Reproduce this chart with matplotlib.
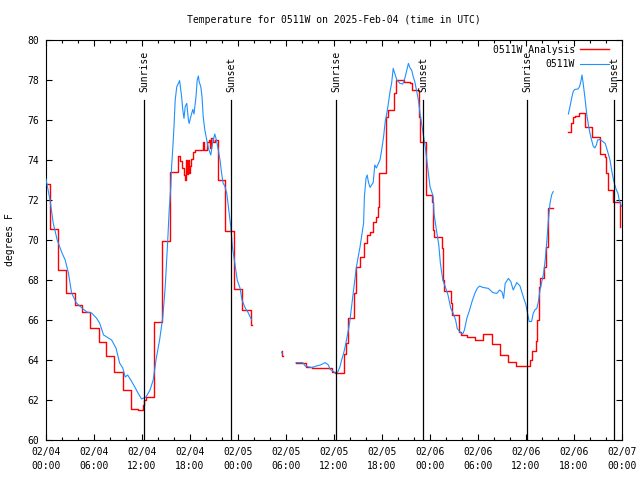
import numpy as np
import matplotlib
matplotlib.use("Agg")
import matplotlib.pyplot as plt

nan = np.nan

# hours since 02/04 00:00 UTC
obs_hours = [0.0, 0.5, 0.9, 1.4, 2.0, 2.4, 2.8, 3.2, 3.8, 4.5, 5.1, 5.7, 6.3, 6.7, 7.2, 7.6,
             8.2, 8.75, 9.2, 9.6, 9.9, 10.2, 10.6, 11.1, 11.5, 11.95, 12.5, 13.0, 13.4, 13.75,
             14.2, 14.6, 14.9, 15.2, 15.4, 15.6, 15.7, 15.85, 16.0, 16.15, 16.35, 16.55, 16.7,
             16.85, 16.95, 17.1, 17.25, 17.4, 17.6, 17.8, 17.9, 18.1, 18.35, 18.5, 18.75, 18.9,
             19.05, 19.15, 19.35, 19.5, 19.65, 19.85, 20.1, 20.3, 20.6, 20.85, 21.1, 21.3, 21.5,
             21.75, 21.95, 22.15, 22.35, 22.6, 22.8, 23.1, 23.3, 23.6, 23.9, 24.25, 24.5, 24.9,
             25.3, 25.7, 25.8,
             29.45, 29.55, 29.6,
             31.25, 32.1, 32.4, 33.2, 33.8, 34.3, 34.7, 34.9, 35.3, 35.5, 35.8, 36.1, 36.3, 36.5,
             36.75, 36.95, 37.2, 37.4, 37.6, 37.8, 38.0, 38.4, 38.8, 39.25, 39.7, 39.8, 40.0,
             40.15, 40.3, 40.5, 40.9, 41.1, 41.3, 41.55, 41.75, 41.96, 42.2, 42.4, 42.6, 42.8,
             43.0, 43.2, 43.4, 43.6, 43.85, 44.25, 44.6, 44.85, 45.1, 45.3, 45.5, 45.7, 45.9,
             46.1, 46.3, 46.55, 46.75, 46.95, 47.2, 47.4, 47.6, 47.8, 48.0, 48.4, 48.5, 48.8,
             49.1, 49.3, 49.6, 49.9, 50.25, 50.6, 50.9, 51.2, 51.4, 51.7, 52.1, 52.3, 52.6,
             52.95, 53.25, 53.6, 53.9, 54.2, 54.6, 55.3, 55.85, 56.35, 56.7, 57.0, 57.2, 57.4,
             57.8, 58.1, 58.4, 58.85, 59.25, 59.65, 60.0, 60.15, 60.4, 60.7, 60.9, 61.1, 61.35,
             61.55, 61.7, 61.75, 62.2, 62.4, 62.6, 62.8, 63.0, 63.2, 63.4, 63.5,
             65.3, 65.5, 65.7, 65.9, 66.1, 66.5, 66.7, 66.85, 67.0, 67.15, 67.4, 67.6, 67.8,
             68.0, 68.2, 68.4, 68.6, 68.8, 68.95, 69.25, 69.6, 69.9, 70.15, 70.5, 70.7, 70.9,
             71.1, 71.3, 71.5, 71.65, 71.95]
obs_temps = [73.05, 72.0, 70.85, 70.0, 69.35, 69.0, 68.35, 67.35, 66.85, 66.6, 66.4, 66.35, 66.1,
             65.85, 65.25, 65.15, 65.0, 64.6, 63.85, 63.6, 63.15, 63.25, 63.0, 62.65, 62.35, 62.05,
             62.15, 62.5, 63.0, 64.0, 65.0, 66.15, 67.65, 69.85, 71.5, 72.67, 73.67, 74.6, 75.67,
             77.0, 77.67, 77.83, 77.97, 77.5, 77.17, 76.5, 76.08, 76.67, 76.83, 76.0, 75.83, 76.17,
             76.53, 76.3, 77.17, 78.0, 78.2, 77.9, 77.67, 77.17, 76.17, 75.5, 75.0, 74.58, 74.25,
             74.92, 75.3, 75.0, 74.58, 74.0, 73.33, 72.83, 72.7, 72.33, 71.67, 70.65, 69.65, 68.85,
             68.0, 67.6, 67.0, 66.6, 66.35, 66.0, nan,
             64.4, 64.3, nan,
             63.87, 63.87, 63.7, 63.62, 63.7, 63.75, 63.83, 63.87, 63.75, 63.53, 63.47, 63.37,
             63.33, 63.42, 63.67, 64.0, 64.33, 64.67, 65.08, 65.5, 66.0, 67.35, 68.65, 69.65,
             70.85, 72.17, 73.08, 73.25, 72.9, 72.63, 72.87, 73.75, 73.6, 73.83, 74.0, 74.5,
             75.17, 75.92, 76.33, 76.83, 77.42, 77.83, 78.58, 78.33, 78.0, 77.83, 77.8, 78.08,
             78.5, 78.83, 78.6, 78.5, 78.17, 77.92, 77.5, 77.0, 76.33, 75.83, 75.17, 74.67, 74.0,
             73.33, 72.67, 72.17, 71.33, 70.5, 69.75, 68.83, 68.0, 67.67, 67.25, 66.58, 66.33,
             66.0, 65.58, 65.42, 65.3, 65.5, 66.08, 66.5, 66.92, 67.33, 67.58, 67.7, 67.63, 67.58,
             67.37, 67.33, 67.5, 67.4, 67.08, 67.83, 68.08, 67.92, 67.5, 67.87, 67.7, 67.17,
             66.75, 66.42, 65.92, 65.93, 66.33, 66.5, 66.58, 66.92, 67.33, 67.5, 68.33, 69.0,
             69.92, 71.0, 71.83, 72.25, 72.42, nan,
             76.3, 76.67, 77.08, 77.42, 77.53, 77.55, 77.67, 77.92, 78.25, 77.83, 77.0, 76.25,
             75.75, 75.33, 75.0, 74.7, 74.6, 74.75, 75.0, 75.03, 74.92, 74.83, 74.5, 74.0, 73.5,
             73.08, 72.75, 72.5, 72.33, 72.0, 71.67]

an_hours = [-0.5, 0.55, 1.55, 2.55, 3.6, 4.55, 5.55, 6.6, 7.55, 8.55, 9.6, 10.6, 11.5, 12.1,
            12.3, 12.45, 13.45, 14.55, 15.55, 16.5, 16.8, 17.0, 17.25, 17.4, 17.5, 17.6, 17.75,
            17.85, 18.0, 18.15, 18.4, 18.6, 19.6, 19.8, 20.1, 20.4, 20.5, 20.6, 20.9, 21.1, 21.5,
            22.4, 23.5, 24.5, 25.6, 25.8,
            29.45, 29.55, 29.62,
            31.25, 32.5, 33.2, 35.8, 36.1, 37.3, 37.5, 37.8, 38.5, 38.8, 39.25, 39.7, 40.1, 40.5,
            40.9, 41.25, 41.45, 41.65, 42.45, 42.55, 42.7, 43.5, 43.75, 44.8, 45.5, 45.7, 46.6,
            46.75, 47.45, 48.2, 48.4, 48.5, 49.45, 49.6, 49.7, 50.6, 50.7, 51.6, 51.85, 52.6,
            53.6, 54.65, 55.7, 56.75, 57.8, 58.8, 60.5, 60.7, 61.3, 61.4, 61.6, 61.75, 62.25,
            62.45, 62.7, 63.4,
            65.3, 65.6, 65.9, 66.1, 66.65, 67.4, 68.2, 69.25, 69.9, 70.0, 70.2, 70.9, 71.75, 71.8]
an_temps = [72.8, 70.55, 68.5, 67.35, 66.75, 66.4, 65.6, 64.9, 64.2, 63.4, 62.5, 61.55, 61.5,
            61.75, 62.0, 62.15, 65.9, 69.95, 73.4, 74.2, 73.95, 73.6, 73.25, 73.0, 74.0, 73.3,
            74.0, 73.35, 73.7, 74.05, 74.4, 74.5, 74.9, 74.5, 74.9, 75.0, 74.6, 75.1, 74.9, 75.0,
            73.0, 70.45, 67.55, 66.5, 65.75, nan,
            64.45, 64.2, nan,
            63.87, 63.67, 63.58, 63.42, 63.37, 64.3, 64.85, 66.1, 67.35, 68.65, 69.17, 69.85,
            70.25, 70.4, 70.9, 71.15, 71.65, 73.33, 74.08, 76.17, 76.5, 77.33, 78.0, 77.92, 77.83,
            77.5, 76.17, 74.92, 72.25, 71.92, 70.5, 70.13, 69.58, 68.0, 67.45, 66.83, 66.25,
            65.42, 65.25, 65.13, 65.0, 65.3, 64.8, 64.25, 63.92, 63.7, 64.0, 64.47, 64.97, 66.0,
            67.67, 68.08, 68.67, 69.67, 71.58, nan,
            75.42, 75.83, 76.13, 76.2, 76.37, 75.67, 75.17, 74.3, 74.17, 73.33, 72.5, 71.92,
            70.67, nan]

sun_hours = [12.28, 23.15, 36.3, 47.18, 60.15, 71.0]
sun_names = ["Sunrise", "Sunset", "Sunrise", "Sunset", "Sunrise", "Sunset"]

tick_hours = list(range(0, 73, 6))
tick_labels = ["02/04\n00:00", "02/04\n06:00", "02/04\n12:00", "02/04\n18:00",
               "02/05\n00:00", "02/05\n06:00", "02/05\n12:00", "02/05\n18:00",
               "02/06\n00:00", "02/06\n06:00", "02/06\n12:00", "02/06\n18:00",
               "02/07\n00:00"]

plt.rcParams['font.family'] = 'DejaVu Sans Mono'
plt.rcParams['font.size'] = 7

fig = plt.figure(figsize=(6.4, 4.8), dpi=100)
ax = fig.add_axes([46 / 640, 40 / 480, 576 / 640, 400 / 480])

ax.step(an_hours, an_temps, where='post', color='#ff0000', linewidth=1.0,
        label='0511W Analysis', zorder=2)
ax.plot(obs_hours, obs_temps, color='#1e90ff', linewidth=0.8, label='0511W', zorder=3)

for h, name in zip(sun_hours, sun_names):
    ax.plot([h, h], [60, 77], color='black', linewidth=0.9, zorder=4)
    ax.text(h, 77.4, name, rotation=90, ha='center', va='bottom', fontsize=7)

ax.set_xlim(0, 72)
ax.set_ylim(60, 80)
ax.set_xticks(tick_hours)
ax.set_xticklabels(tick_labels, linespacing=1.5)
ax.set_xticks(range(0, 73, 2), minor=True)
ax.set_yticks(range(60, 81, 2))

ax.tick_params(which='both', direction='in', top=True, right=True, width=0.8)
ax.tick_params(which='major', length=4)
ax.tick_params(which='minor', length=2)
ax.tick_params(axis='x', pad=5)
ax.tick_params(axis='y', pad=5)
for s in ax.spines.values():
    s.set_linewidth(0.8)

ax.set_ylabel('degrees F', labelpad=9)
ax.set_title('Temperature for 0511W on 2025-Feb-04 (time in UTC)', fontsize=7, pad=12)

ax.legend(loc='upper right', bbox_to_anchor=(0.9842, 0.9978), markerfirst=False,
          frameon=False, handlelength=3.0, borderaxespad=0, labelspacing=0.45,
          handletextpad=0.5, fontsize=7)

fig.savefig('out.png', dpi=100)
